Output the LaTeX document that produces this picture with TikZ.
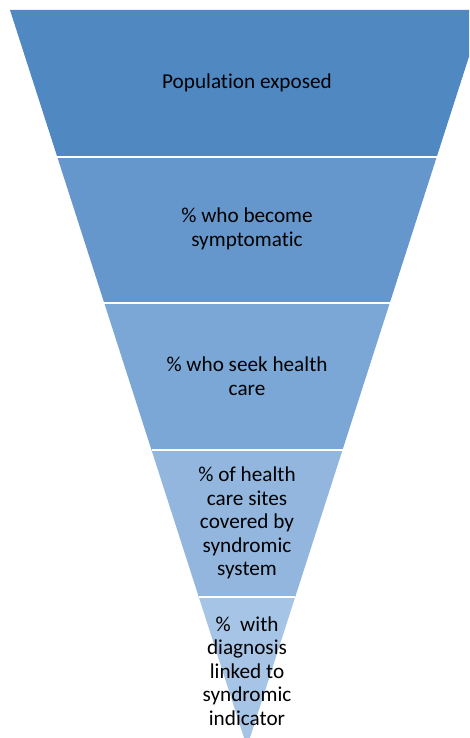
\documentclass[tikz,border=0pt]{standalone}
\usepackage{fontspec}
\setmainfont{Carlito}[Ligatures=NoCommon]
\definecolor{cA}{RGB}{80,137,193}
\definecolor{cB}{RGB}{101,151,204}
\definecolor{cC}{RGB}{122,167,214}
\definecolor{cD}{RGB}{146,182,222}
\definecolor{cE}{RGB}{166,196,230}
\tikzset{
  layer/.style={draw=none},
  sep/.style={draw=white,line width=2pt},
  lbl/.style={align=center,font=\fontsize{21.2}{23.5}\selectfont,text=black,inner sep=0pt}
}
\begin{document}
\begin{tikzpicture}[x=1pt,y=1pt]
\useasboundingbox (0,0) rectangle (469,738);
\clip (0,0) rectangle (469,738);
\fill[white] (0,0) rectangle (469,738);
\fill[cA,layer] (10,728) -- (484,728) -- (436.7,581) -- (57.3,581) -- cycle;
\fill[cB,layer] (57.3,581) -- (436.7,581) -- (389.6,434.5) -- (104.4,434.5) -- cycle;
\fill[cC,layer] (104.4,434.5) -- (389.6,434.5) -- (342.5,288) -- (151.5,288) -- cycle;
\fill[cD,layer] (151.5,288) -- (342.5,288) -- (295.2,141) -- (198.8,141) -- cycle;
\fill[cE,layer] (198.8,141) -- (295.2,141) -- (247,-9) -- cycle;
\draw[sep] (57.3,581) -- (436.7,581);
\draw[sep] (104.4,434.5) -- (389.6,434.5);
\draw[sep] (151.5,288) -- (342.5,288);
\draw[sep] (198.8,141) -- (295.2,141);
\node[lbl] (t1) at (247,655) {Population exposed};
\node[lbl] (t2) at (247,509) {\% who become\\symptomatic};
\node[lbl] (t3) at (247,362) {\% who seek health\\care};
\node[lbl] (t4) at (247,215) {\% of health\\care sites\\covered by\\syndromic\\system};
\node[lbl] (t5) at (247,67) {\%~ with\\diagnosis\\linked to\\syndromic\\indicator};
\end{tikzpicture}
\end{document}
